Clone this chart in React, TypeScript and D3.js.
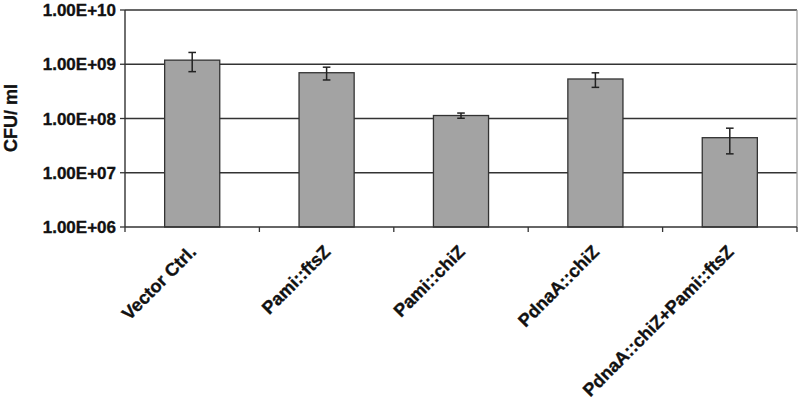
import React from "react";
import * as d3 from "d3";

const categories = ["Vector Ctrl.", "Pami::ftsZ", "Pami::chiZ", "PdnaA::chiZ", "PdnaA::chiZ+Pami::ftsZ"];
const values = [1.19e9, 6.98e8, 1.135e8, 5.35e8, 4.43e7];
const errors = [4.6e8, 1.85e8, 1.25e7, 1.6e8, 2.2e7];
const yTicks = [1e6, 1e7, 1e8, 1e9, 1e10];
const yTickLabels = ["1.00E+06", "1.00E+07", "1.00E+08", "1.00E+09", "1.00E+10"];
const yTitle = "CFU/ ml";

const W = 800;
const H = 400;
const left = 125;
const right = 797;
const top = 10;
const bottom = 227;
const font = "'Liberation Sans', Arial, sans-serif";

export default function App() {
  const y = d3.scaleLog().domain([1e6, 1e10]).range([bottom, top]);
  const x = d3
    .scaleBand<string>()
    .domain(categories)
    .range([left, right])
    .paddingInner(0.59)
    .paddingOuter(0.295);
  const step = x.step();
  const bounds = d3.range(categories.length + 1).map((i) => left + i * step);

  return (
    <svg
      width={W}
      height={H}
      style={{ position: "absolute", left: 0, top: 0, display: "block", background: "#fff" }}
    >
      <rect x={0} y={0} width={W} height={H} fill="#fff" />
      {yTicks.slice(1).map((t) => (
        <line key={t} x1={left} x2={right} y1={y(t)} y2={y(t)} stroke="#333" strokeWidth={1.3} />
      ))}
      <line x1={right} x2={right} y1={top} y2={bottom} stroke="#999" strokeWidth={1.2} />
      {categories.map((c, i) => (
        <rect
          key={c}
          x={x(c)}
          y={y(values[i])}
          width={x.bandwidth()}
          height={bottom - y(values[i])}
          fill="#a3a3a3"
          stroke="#333"
          strokeWidth={1.3}
        />
      ))}
      {categories.map((c, i) => {
        const cx = (x(c) as number) + x.bandwidth() / 2;
        const y1 = y(values[i] + errors[i]);
        const y2 = y(values[i] - errors[i]);
        return (
          <g key={c} stroke="#222" strokeWidth={1.5}>
            <line x1={cx} x2={cx} y1={y1} y2={y2} />
            <line x1={cx - 3.8} x2={cx + 3.8} y1={y1} y2={y1} />
            <line x1={cx - 3.8} x2={cx + 3.8} y1={y2} y2={y2} />
          </g>
        );
      })}
      <line x1={left} x2={left} y1={top} y2={bottom} stroke="#333" strokeWidth={1.4} />
      {yTicks.map((t, i) => (
        <g key={t}>
          <line x1={left - 5} x2={left} y1={y(t)} y2={y(t)} stroke="#333" strokeWidth={1.3} />
          <text
            x={116}
            y={y(t)}
            dy="0.36em"
            textAnchor="end"
            fontFamily={font}
            fontWeight="bold"
            fontSize={17}
            fill="#111"
            stroke="#111"
            strokeWidth={0.35}
          >
            {yTickLabels[i]}
          </text>
        </g>
      ))}
      <line x1={left} x2={right} y1={bottom} y2={bottom} stroke="#333" strokeWidth={1.4} />
      {bounds.map((b, i) => (
        <line key={i} x1={b} x2={b} y1={bottom} y2={bottom + 5} stroke="#333" strokeWidth={1.3} />
      ))}
      {categories.map((c) => {
        const cx = (x(c) as number) + x.bandwidth() / 2 + 5;
        const cy = 253;
        return (
          <text
            key={c}
            x={cx}
            y={cy}
            transform={`rotate(-45, ${cx}, ${cy})`}
            textAnchor="end"
            fontFamily={font}
            fontWeight="bold"
            fontSize={18}
            fill="#111"
            stroke="#111"
            strokeWidth={0.35}
          >
            {c}
          </text>
        );
      })}
      <text
        x={0}
        y={0}
        transform={`translate(17, 118) rotate(-90)`}
        textAnchor="middle"
        fontFamily={font}
        fontWeight="bold"
        fontSize={18}
        fill="#111"
        stroke="#111"
        strokeWidth={0.35}
      >
        {yTitle}
      </text>
    </svg>
  );
}
